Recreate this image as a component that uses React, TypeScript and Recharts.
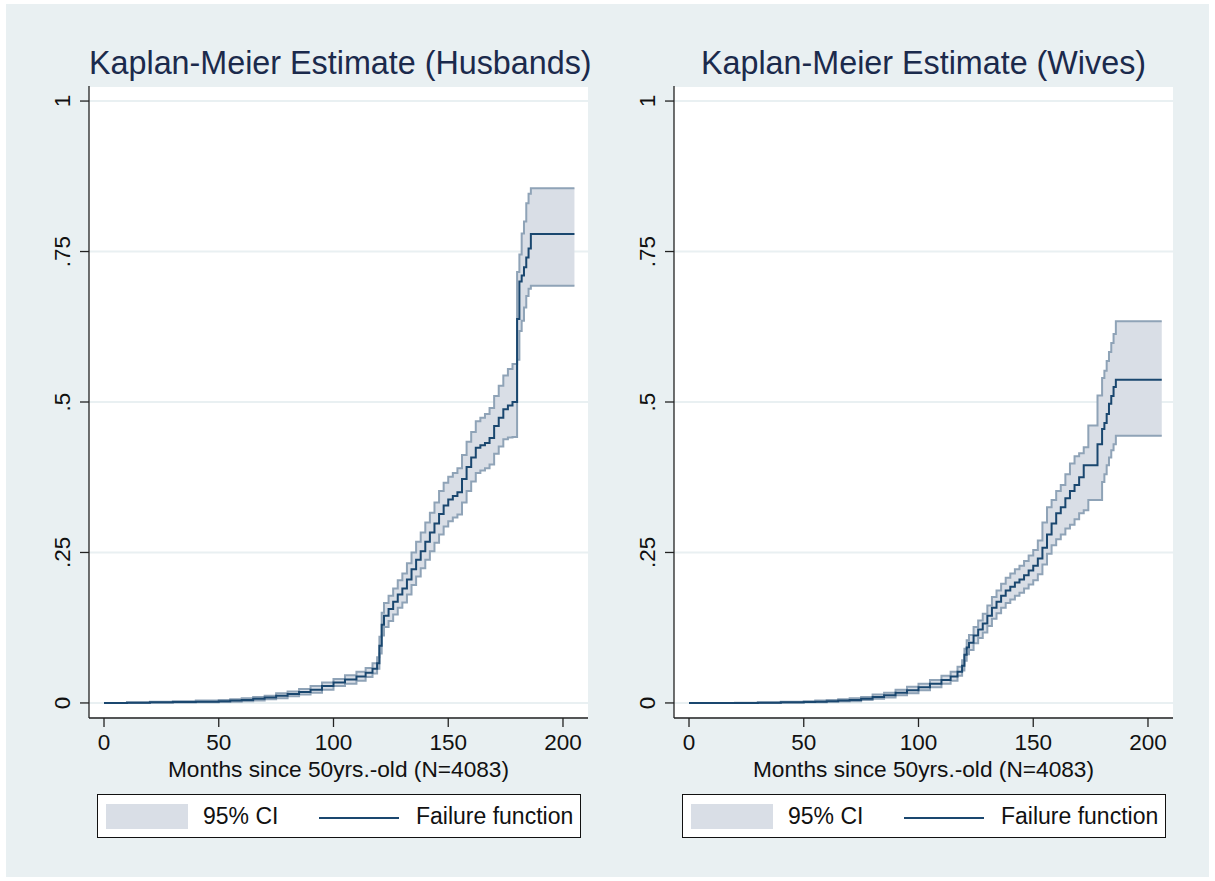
import React from 'react';
import { ComposedChart, Area, Line, XAxis, YAxis, CartesianGrid } from 'recharts';

// Kaplan-Meier failure estimates (months since age 50)
const husbandMonths = [0, 10, 20, 30, 40, 50, 55, 60, 65, 70, 75, 80, 85, 90, 95, 100, 105, 110, 114, 117, 119, 120, 121, 122, 124, 126, 128, 130, 132, 134, 136, 138, 140, 142, 144, 146, 148, 150, 152, 154, 156, 158, 160, 162, 164, 166, 168, 170, 172, 174, 176, 178, 180, 181, 182, 183, 184, 185, 186, 205];
const husbandFailure = [0, 0.0005, 0.001, 0.0015, 0.002, 0.003, 0.004, 0.005, 0.007, 0.009, 0.012, 0.015, 0.018, 0.022, 0.028, 0.034, 0.039, 0.044, 0.05, 0.057, 0.066, 0.095, 0.13, 0.145, 0.156, 0.168, 0.18, 0.19, 0.205, 0.222, 0.238, 0.252, 0.268, 0.283, 0.298, 0.314, 0.328, 0.338, 0.344, 0.35, 0.372, 0.392, 0.408, 0.424, 0.428, 0.432, 0.44, 0.46, 0.474, 0.488, 0.494, 0.5, 0.638, 0.7, 0.71, 0.724, 0.74, 0.755, 0.779, 0.779];
const husbandLower = [0, 0, 0.0005, 0.0008, 0.001, 0.0015, 0.002, 0.003, 0.004, 0.006, 0.008, 0.011, 0.014, 0.017, 0.022, 0.028, 0.032, 0.037, 0.043, 0.049, 0.057, 0.082, 0.112, 0.126, 0.136, 0.147, 0.158, 0.167, 0.18, 0.196, 0.21, 0.224, 0.238, 0.252, 0.266, 0.28, 0.293, 0.302, 0.308, 0.313, 0.333, 0.352, 0.368, 0.382, 0.386, 0.39, 0.396, 0.414, 0.426, 0.438, 0.441, 0.442, 0.57, 0.618, 0.635, 0.657, 0.676, 0.688, 0.693, 0.693];
const husbandUpper = [0, 0.001, 0.002, 0.003, 0.004, 0.005, 0.006, 0.008, 0.01, 0.012, 0.016, 0.019, 0.023, 0.028, 0.034, 0.04, 0.046, 0.052, 0.058, 0.066, 0.076, 0.11, 0.15, 0.166, 0.178, 0.19, 0.204, 0.215, 0.232, 0.25, 0.268, 0.283, 0.3, 0.316, 0.333, 0.352, 0.366, 0.376, 0.382, 0.39, 0.412, 0.434, 0.45, 0.468, 0.474, 0.48, 0.49, 0.51, 0.527, 0.544, 0.555, 0.563, 0.716, 0.745, 0.78, 0.8, 0.83, 0.846, 0.855, 0.855];

const wifeMonths = [0, 10, 20, 30, 40, 50, 55, 60, 65, 70, 75, 80, 85, 90, 95, 100, 105, 110, 114, 117, 119, 120, 121, 122, 124, 126, 128, 130, 132, 134, 136, 138, 140, 142, 144, 146, 148, 150, 152, 154, 156, 158, 160, 162, 164, 166, 168, 170, 172, 174, 176, 178, 180, 181, 182, 183, 184, 185, 186, 206];
const wifeFailure = [0, 0, 0, 0.0005, 0.001, 0.0015, 0.002, 0.003, 0.004, 0.005, 0.007, 0.01, 0.013, 0.017, 0.021, 0.026, 0.032, 0.038, 0.044, 0.052, 0.062, 0.08, 0.092, 0.1, 0.112, 0.122, 0.132, 0.145, 0.158, 0.168, 0.178, 0.187, 0.193, 0.2, 0.205, 0.212, 0.22, 0.228, 0.24, 0.258, 0.28, 0.298, 0.315, 0.325, 0.34, 0.352, 0.362, 0.375, 0.395, 0.395, 0.395, 0.43, 0.455, 0.465, 0.48, 0.497, 0.51, 0.525, 0.537, 0.537];
const wifeLower = [0, 0, 0, 0, 0.0005, 0.001, 0.0012, 0.002, 0.0025, 0.003, 0.005, 0.007, 0.009, 0.013, 0.016, 0.021, 0.026, 0.032, 0.037, 0.045, 0.054, 0.07, 0.081, 0.088, 0.099, 0.108, 0.117, 0.128, 0.14, 0.149, 0.158, 0.166, 0.172, 0.178, 0.183, 0.19, 0.197, 0.204, 0.214, 0.23, 0.248, 0.262, 0.272, 0.28, 0.29, 0.296, 0.305, 0.315, 0.32, 0.337, 0.337, 0.337, 0.367, 0.38, 0.395, 0.408, 0.42, 0.43, 0.444, 0.444];
const wifeUpper = [0, 0, 0.0005, 0.001, 0.002, 0.003, 0.004, 0.005, 0.006, 0.008, 0.01, 0.014, 0.017, 0.022, 0.027, 0.032, 0.038, 0.045, 0.052, 0.06, 0.071, 0.09, 0.104, 0.113, 0.126, 0.137, 0.148, 0.162, 0.176, 0.187, 0.198, 0.208, 0.215, 0.222, 0.228, 0.236, 0.245, 0.254, 0.27, 0.3, 0.325, 0.337, 0.352, 0.362, 0.38, 0.398, 0.41, 0.415, 0.425, 0.461, 0.461, 0.511, 0.54, 0.552, 0.568, 0.583, 0.598, 0.613, 0.634, 0.634];

const xTicks = [0, 50, 100, 150, 200];
const yTicks = [0, 0.25, 0.5, 0.75, 1];
const yTickLabels = ['0', '.25', '.5', '.75', '1'];
const xAxisTitle = 'Months since 50yrs.-old (N=4083)';
const legendLabels = ['95% CI', 'Failure function'];

const FONT = '"Liberation Sans", Arial, Helvetica, sans-serif';
const BG = '#e9f0f2';
const NAVY = '#1a476f';
const CI_FILL = '#d9dee6';
const CI_EDGE = '#8fa3b7';

function buildRows(months: number[], est: number[], lo: number[], hi: number[]) {
  return months.map((m, i) => ({ month: m, est: est[i], lo: lo[i], hi: hi[i], band: [lo[i], hi[i]] }));
}

function XTick({ x, y, payload }: any) {
  return (
    <text x={x} y={y + 23} textAnchor="middle" fontSize={22.5} fontFamily={FONT} fill="#111">
      {payload.value}
    </text>
  );
}

function YTick({ x, y, payload }: any) {
  const bx = x - 10;
  const idx = yTicks.indexOf(payload.value);
  return (
    <text x={bx} y={y} transform={`rotate(-90 ${bx} ${y})`} textAnchor="middle" fontSize={22.5} fontFamily={FONT} fill="#111">
      {idx >= 0 ? yTickLabels[idx] : payload.value}
    </text>
  );
}

function Panel({ title, rows, left }: { title: string; rows: any[]; left: number }) {
  return (
    <div style={{ position: 'absolute', left, top: 0, width: 600, height: 880 }}>
      <div
        style={{
          position: 'absolute',
          left: 89,
          width: 499,
          top: 45,
          lineHeight: '36px',
          textAlign: 'center',
          fontFamily: FONT,
          fontSize: 32.3,
          color: '#1b2a4c',
          whiteSpace: 'nowrap',
        }}
      >
        {title}
      </div>
      <div style={{ position: 'absolute', left: 0, top: 0 }}>
        <ComposedChart width={600} height={800} data={rows} margin={{ top: 86, right: 12, left: 0, bottom: 0 }}>
          <CartesianGrid horizontal vertical={false} fill="#ffffff" stroke={BG} strokeWidth={2} />
          <XAxis
            dataKey="month"
            type="number"
            domain={[-6.54, 210.9]}
            allowDataOverflow
            ticks={xTicks}
            tick={<XTick />}
            tickSize={9}
            tickMargin={0}
            height={82}
            stroke="#222"
            axisLine={{ stroke: '#222', strokeWidth: 1.3 }}
            tickLine={{ stroke: '#222', strokeWidth: 1.3 }}
            label={(props: any) => {
              const vb = props.viewBox;
              return (
                <text x={vb.x + vb.width / 2} y={vb.y + 59} textAnchor="middle" fontSize={22.7} fontFamily={FONT} fill="#111">
                  {xAxisTitle}
                </text>
              );
            }}
          />
          <YAxis
            type="number"
            domain={[-0.025, 1.025]}
            allowDataOverflow
            ticks={yTicks}
            tick={<YTick />}
            tickSize={9}
            tickMargin={0}
            width={89}
            stroke="#222"
            axisLine={{ stroke: '#222', strokeWidth: 1.3 }}
            tickLine={{ stroke: '#222', strokeWidth: 1.3 }}
          />
          <Area
            type="stepAfter"
            dataKey="band"
            fill={CI_FILL}
            fillOpacity={1}
            stroke="none"
            isAnimationActive={false}
          />
          <Line type="stepAfter" dataKey="lo" stroke={CI_EDGE} strokeWidth={2} dot={false} isAnimationActive={false} />
          <Line type="stepAfter" dataKey="hi" stroke={CI_EDGE} strokeWidth={2} dot={false} isAnimationActive={false} />
          <Line type="stepAfter" dataKey="est" stroke={NAVY} strokeWidth={2} dot={false} isAnimationActive={false} />
        </ComposedChart>
      </div>
      <div
        style={{
          position: 'absolute',
          left: 97,
          top: 794,
          width: 482,
          height: 42,
          border: '1px solid #111',
          background: '#ffffff',
          fontFamily: FONT,
          fontSize: 23,
          color: '#111',
        }}
      >
        <div style={{ position: 'absolute', left: 8, top: 9, width: 82, height: 25, background: CI_FILL }} />
        <div style={{ position: 'absolute', left: 105, top: 7, lineHeight: '28px', whiteSpace: 'nowrap' }}>{legendLabels[0]}</div>
        <div style={{ position: 'absolute', left: 221, top: 22, width: 80, height: 2, background: NAVY }} />
        <div style={{ position: 'absolute', left: 318, top: 7, lineHeight: '28px', whiteSpace: 'nowrap' }}>{legendLabels[1]}</div>
      </div>
    </div>
  );
}

export default function App() {
  const husbands = buildRows(husbandMonths, husbandFailure, husbandLower, husbandUpper);
  const wives = buildRows(wifeMonths, wifeFailure, wifeLower, wifeUpper);
  return (
    <div style={{ position: 'absolute', left: 0, top: 0, width: 1215, height: 881, background: '#ffffff', overflow: 'hidden' }}>
      <div style={{ position: 'absolute', left: 6, top: 4, width: 1203, height: 873, background: BG }} />
      <Panel title="Kaplan-Meier Estimate (Husbands)" rows={husbands} left={0} />
      <Panel title="Kaplan-Meier Estimate (Wives)" rows={wives} left={585} />
    </div>
  );
}
